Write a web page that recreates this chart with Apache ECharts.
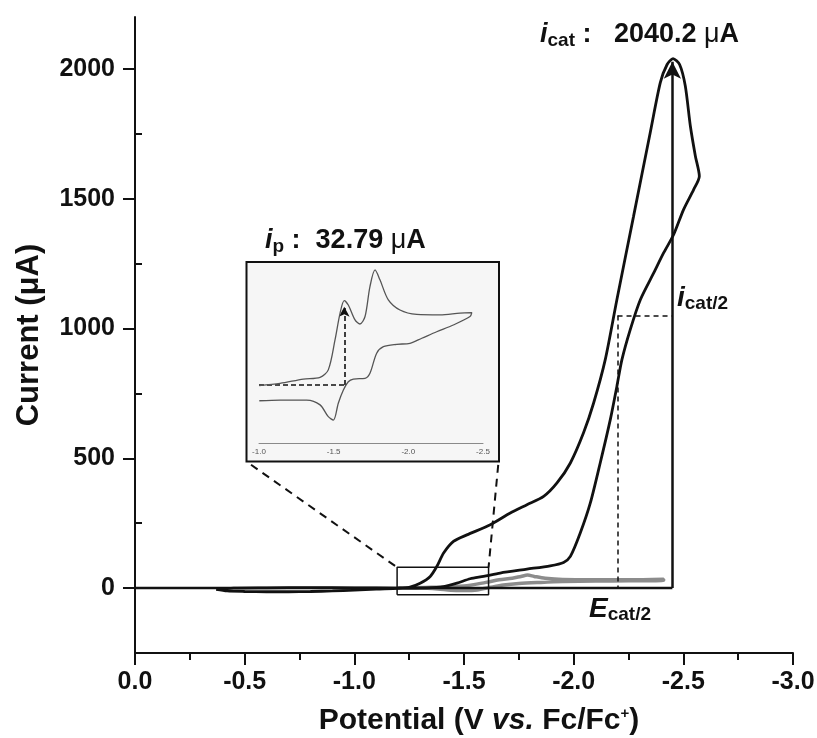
<!DOCTYPE html>
<html><head><meta charset="utf-8">
<script src="https://cdn.jsdelivr.net/npm/echarts@6/dist/echarts.min.js"></script>
<style>html,body{margin:0;padding:0;background:#fff}#c{width:817px;height:738px}</style>
</head><body><div id="c"></div>
<script>
// ---------- data ----------
// Catalytic CV (black): potential (V vs Fc/Fc+) and current (uA)
const cvPotential = [-0.37,-0.42,-0.5,-0.6,-0.7,-0.8,-0.9,-1.0,-1.1,-1.2,-1.25,
  -1.30,-1.346,-1.376,-1.407,-1.452,-1.513,-1.62,-1.711,-1.787,-1.863,-1.924,-1.985,-2.045,-2.091,-2.144,-2.197,-2.273,-2.349,-2.395,-2.426,-2.453,-2.483,-2.509,-2.532,-2.555,-2.573,
  -2.547,-2.501,-2.456,-2.41,-2.365,-2.304,-2.258,-2.22,-2.197,-2.167,-2.121,-2.076,-2.03,-1.985,-1.954,-1.893,-1.787,-1.665,-1.589,-1.528,-1.468,-1.407,-1.331,-1.2,
  -1.0,-0.8,-0.6,-0.45,-0.37];
const cvCurrent = [-5,-11,-13,-14,-14,-13,-11,-8,-4,-1,3,
  19,45,83,135,180,205,244,289,321,353,405,482,598,713,880,1111,1432,1754,1947,2017,2040,2017,1934,1780,1664,1587,
  1535,1458,1362,1291,1214,1111,996,880,777,649,482,328,212,122,99,86,73,58,45,36,19,6,1,0,
  1,2,1,0,-5];
// Blank CV (grey)
const blankPotential = [-1.2,-1.35,-1.5,-1.6,-1.66,-1.72,-1.76,-1.79,-1.82,-1.87,-1.95,-2.1,-2.25,-2.41,
  -2.41,-2.25,-2.1,-1.95,-1.85,-1.75,-1.68,-1.62,-1.56,-1.5,-1.44,-1.38,-1.3,-1.2];
const blankCurrent = [1,3,8,22,32,38,45,50,45,38,33,32,32,34,
  30,28,27,25,22,18,12,3,-7,-9,-8,-3,0,0];
// Inset CV
const insetPotential = [-1.002,-1.141,-1.297,-1.409,-1.464,-1.509,-1.543,-1.571,-1.598,-1.643,-1.676,-1.710,-1.743,-1.777,-1.810,-1.866,-1.944,-2.056,-2.212,-2.346,-2.425,
  -2.413,-2.301,-2.190,-2.090,-2.011,-1.922,-1.833,-1.788,-1.743,-1.710,-1.632,-1.598,-1.565,-1.531,-1.498,-1.464,-1.409,-1.319,-1.141,-1.002];
const insetCurrent = [-1.2,-0.3,1.5,2.2,5.3,17.7,28.8,34.0,32.2,26.0,24.3,27.4,39.8,46.7,42.6,34.3,30.1,28.3,28.1,28.8,29.0,
  27.4,23.9,21.1,18.4,16.3,15.9,14.9,12.2,3.9,1.8,1.5,0.4,-3.0,-8.5,-15.5,-14.1,-9.2,-7.2,-7.2,-7.5];
const yMajorTicks = [0,500,1000,1500,2000];
const yMinorTicks = [-250,250,750,1250,1750];
const insetTickValues = [-1.0,-1.5,-2.0,-2.5];
// annotations
const icatLabel = '2040.2';
const ipLabel = '32.79';
const icatPotential = -2.45, icatTop = 2028;
const ecat2Potential = -2.2, icat2Current = 1050;
const zoomBoxPotential = [-1.195,-1.612], zoomBoxCurrent = [-26,80];
const connectorFrom = [[-0.529,475],[-1.656,475]];
const ipPotential = -1.571, ipBase = -1, ipTop = 31.5;

// ---------- chart ----------
const FF = '"Liberation Sans", Arial, Helvetica, sans-serif';
const BLACK = '#111';
const zip = (a,b) => a.map((v,i)=>[v,b[i]]);
const chart = echarts.init(document.getElementById('c'), null, {renderer:'canvas'});

function rich(main, sub, pad){
  return {
    i:{fontSize:main,fontWeight:'bold',fontStyle:'italic',fontFamily:FF,lineHeight:32,fill:BLACK},
    s:{fontSize:sub,fontWeight:'bold',fontFamily:FF,lineHeight:sub,padding:[pad,0,0,0],verticalAlign:'top',fill:BLACK},
    n:{fontSize:main,fontWeight:'bold',fontFamily:FF,lineHeight:32,fill:BLACK},
    m:{fontSize:main,fontWeight:'normal',fontFamily:FF,lineHeight:32,fill:BLACK}
  };
}

const option = {
  animation:false,
  backgroundColor:'#fff',
  grid:[
    {left:135,right:24,top:17,bottom:85,outerBoundsMode:'none'},
    {left:259,width:224,top:262,height:181,outerBoundsMode:'none'}
  ],
  xAxis:[
    {type:'value',gridIndex:0,min:-3,max:0,interval:0.5,inverse:true,
     axisLine:{show:true,onZero:false,lineStyle:{color:BLACK,width:2}},
     axisTick:{show:true,inside:false,length:12,lineStyle:{color:BLACK,width:2}},
     minorTick:{show:true,splitNumber:2,length:7,lineStyle:{color:BLACK,width:2}},
     splitLine:{show:false},minorSplitLine:{show:false},
     axisLabel:{margin:17,fontSize:25,fontWeight:'bold',fontFamily:FF,color:BLACK,formatter:v=>v.toFixed(1)},
     name:'Potential (V {it|vs.} Fc/Fc{sup|+})',nameLocation:'middle',nameGap:53,
     nameTextStyle:{fontSize:30,fontWeight:'bold',fontFamily:FF,color:BLACK,padding:[0,0,0,30],
       rich:{it:{fontSize:30,fontWeight:'bold',fontStyle:'italic',fontFamily:FF,color:BLACK},
             sup:{fontSize:15,fontWeight:'bold',fontFamily:FF,color:BLACK,verticalAlign:'top',lineHeight:15}}}
    },
    {type:'value',gridIndex:1,min:-2.5,max:-1.0,interval:0.5,inverse:true,
     axisLine:{show:true,onZero:false,lineStyle:{color:'#8a8a8a',width:1}},
     axisTick:{show:false},splitLine:{show:false},
     axisLabel:{margin:5,fontSize:8,fontFamily:FF,color:'#555',formatter:v=>v.toFixed(1)}
    }
  ],
  yAxis:[
    {type:'value',gridIndex:0,min:-250,max:2200,
     axisLine:{show:true,onZero:false,lineStyle:{color:BLACK,width:2}},
     axisTick:{show:true,inside:false,length:12,customValues:yMajorTicks,lineStyle:{color:BLACK,width:2}},
     splitLine:{show:false},
     axisLabel:{margin:20,fontSize:25,fontWeight:'bold',fontFamily:FF,color:BLACK,customValues:yMajorTicks,formatter:v=>String(v)},
     name:'Current (\u03bcA)',nameLocation:'middle',nameGap:90,
     nameTextStyle:{fontSize:31,fontWeight:'bold',fontFamily:FF,color:BLACK}
    },
    {type:'value',gridIndex:0,min:-250,max:2200,
     axisLine:{show:false},
     axisTick:{show:true,inside:false,length:7,customValues:yMinorTicks,lineStyle:{color:BLACK,width:2}},
     splitLine:{show:false},axisLabel:{show:false}
    },
    {type:'value',gridIndex:1,min:-25,max:50,show:false,splitLine:{show:false}}
  ],
  graphic:[
    {type:'rect',z:-10,shape:{x:246.5,y:262,width:252.5,height:199.5},
     style:{fill:'#f6f6f6',stroke:BLACK,lineWidth:2}},
    {type:'text',x:540,y:19,style:{text:'{i|i}{s|cat}{n| :   '+icatLabel+' }{m|\u03bc}{n|A}',rich:rich(27,19,12)}},
    {type:'text',x:265,y:225,style:{text:'{i|i}{s|p}{n| :  '+ipLabel+' }{m|\u03bc}{n|A}',rich:rich(27,19,12)}},
    {type:'text',x:677,y:282,style:{text:'{i|i}{s|cat/2}',rich:rich(28,19,12)}},
    {type:'text',x:589,y:593,style:{text:'{i|E}{s|cat/2}',rich:rich(28,19,12)}}
  ],
  series:[
    {type:'line',name:'blank',xAxisIndex:0,yAxisIndex:0,data:zip(blankPotential,blankCurrent),
     showSymbol:false,symbol:'none',smooth:0.3,lineStyle:{color:'#8c8c8c',width:3.5},silent:true,z:2},
    {type:'line',name:'baseline',xAxisIndex:0,yAxisIndex:0,data:[[0,0],[icatPotential,0]],
     showSymbol:false,symbol:'none',lineStyle:{color:BLACK,width:2.5},silent:true,z:3,
     markLine:{silent:true,animation:false,label:{show:false},symbol:['none','none'],
       data:[
         [{coord:[icatPotential,0],symbol:'none'},{coord:[icatPotential,icatTop],symbol:'arrow',symbolSize:[13,17],lineStyle:{color:BLACK,width:2.5,type:'solid'}}],
         [{coord:[ecat2Potential,icat2Current],symbol:'none',lineStyle:{color:BLACK,width:1.5,type:[5,4]}},{coord:[icatPotential,icat2Current],symbol:'none'}],
         [{coord:[ecat2Potential,icat2Current],symbol:'none',lineStyle:{color:BLACK,width:1.5,type:[5,4]}},{coord:[ecat2Potential,0],symbol:'none'}]
       ],
       lineStyle:{color:BLACK,width:2.5,type:'solid'}}},
    {type:'line',name:'catalytic',xAxisIndex:0,yAxisIndex:0,data:zip(cvPotential,cvCurrent),
     showSymbol:false,symbol:'none',smooth:0.25,lineStyle:{color:BLACK,width:2.8},silent:true,z:4},
    {type:'line',name:'zoombox',xAxisIndex:0,yAxisIndex:0,
     data:[[zoomBoxPotential[0],zoomBoxCurrent[0]],[zoomBoxPotential[1],zoomBoxCurrent[0]],[zoomBoxPotential[1],zoomBoxCurrent[1]],[zoomBoxPotential[0],zoomBoxCurrent[1]],[zoomBoxPotential[0],zoomBoxCurrent[0]]],
     showSymbol:false,symbol:'none',lineStyle:{color:BLACK,width:1.5},silent:true,z:5},
    {type:'line',name:'conn1',xAxisIndex:0,yAxisIndex:0,
     data:[connectorFrom[0],[zoomBoxPotential[0],zoomBoxCurrent[1]]],
     showSymbol:false,symbol:'none',lineStyle:{color:BLACK,width:2,type:[8,6]},silent:true,z:5},
    {type:'line',name:'conn2',xAxisIndex:0,yAxisIndex:0,
     data:[connectorFrom[1],[zoomBoxPotential[1],zoomBoxCurrent[1]]],
     showSymbol:false,symbol:'none',lineStyle:{color:BLACK,width:2,type:[8,6]},silent:true,z:5},
    {type:'line',name:'inset',xAxisIndex:1,yAxisIndex:2,data:zip(insetPotential,insetCurrent),
     showSymbol:false,symbol:'none',smooth:0.3,lineStyle:{color:'#555',width:1.3},silent:true,z:6,
     markLine:{silent:true,animation:false,label:{show:false},symbol:['none','none'],
       lineStyle:{color:BLACK,width:1.6,type:[5,3]},
       data:[
         [{coord:[insetTickValues[0],ipBase],symbol:'none'},{coord:[ipPotential,ipBase],symbol:'none'}],
         [{coord:[ipPotential,ipBase],symbol:'none'},{coord:[ipPotential,ipTop],symbol:'arrow',symbolSize:[8,10]}]
       ]}}
  ]
};
chart.setOption(option);
</script></body></html>
